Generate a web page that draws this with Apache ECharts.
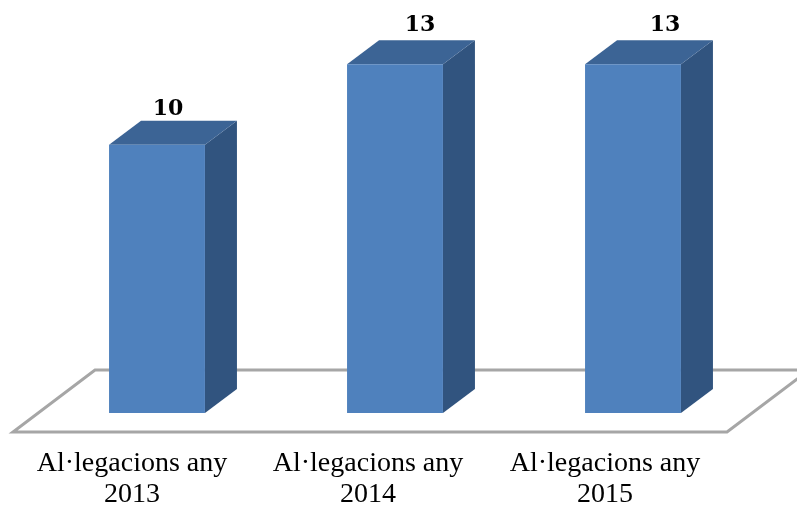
<!DOCTYPE html>
<html>
<head>
<meta charset="utf-8">
<style>
html,body{margin:0;padding:0;background:#fff;}
#chart{width:797px;height:510px;}
</style>
</head>
<body>
<div id="chart"></div>
<script src="https://cdn.jsdelivr.net/npm/echarts@6/dist/echarts.min.js"></script>
<script>
const categories = ['Al·legacions any\n2013', 'Al·legacions any\n2014', 'Al·legacions any\n2015'];
const values = [10, 13, 13];

// fake 3d look
const depthX = 32, depthY = 24;
const labelShiftX = [11, 25, 32];
const labelShiftY = [-11, -15, -15];
const axisLabelPad = [50, 54, 56];

const myChart = echarts.init(document.getElementById('chart'));

function renderFloor(params, api) {
  const g = params.coordSys;
  const base = g.y + g.height;
  const l = g.x - 25, r = g.x + g.width - 25;
  return {
    type: 'polygon',
    shape: {points: [[l, base + 19], [r, base + 19], [r + 82, base - 43], [l + 82, base - 43]]},
    style: {fill: '#fff', stroke: '#a6a6a6', lineWidth: 3}
  };
}

function renderBar(params, api) {
  const i = api.value(0);
  const top = api.coord([i, api.value(1)]);
  const bottom = api.coord([i, 0]);
  const w = api.size([1, 0])[0] * 0.403;
  const x0 = top[0] - w / 2, x1 = top[0] + w / 2;
  return {
    type: 'group',
    children: [
      {
        type: 'polygon',
        shape: {points: [[x1, top[1]], [x1 + depthX, top[1] - depthY], [x1 + depthX, bottom[1] - depthY], [x1, bottom[1]]]},
        style: {fill: '#31547f'}
      },
      {
        type: 'polygon',
        shape: {points: [[x0, top[1]], [x0 + depthX, top[1] - depthY], [x1 + depthX, top[1] - depthY], [x1, top[1]]]},
        style: {fill: '#3c6495'}
      },
      {
        type: 'rect',
        shape: {x: x0, y: top[1], width: w, height: bottom[1] - top[1]},
        style: {fill: '#4f81bd'}
      },
      {
        type: 'text',
        style: {
          x: top[0] + labelShiftX[i],
          y: top[1] - depthY + labelShiftY[i],
          text: String(api.value(1)),
          fill: '#000',
          font: 'bold 22px "DejaVu Serif"',
          align: 'center',
          verticalAlign: 'middle'
        }
      }
    ]
  };
}

myChart.setOption({
  animation: false,
  backgroundColor: '#fff',
  grid: {left: 38, width: 714, top: 10.6, height: 402.4, outerBoundsMode: 'none'},
  xAxis: {
    type: 'category',
    data: categories.map((c, i) => ({value: c, textStyle: {padding: [0, axisLabelPad[i], 0, 0]}})),
    axisLine: {show: false},
    axisTick: {show: false},
    axisLabel: {
      interval: 0,
      margin: 35,
      color: '#000',
      fontFamily: 'Liberation Serif',
      fontSize: 28,
      lineHeight: 31
    }
  },
  yAxis: {type: 'value', min: 0, max: 15, show: false},
  series: [
    {type: 'custom', renderItem: renderFloor, data: [[0, 0]], silent: true},
    {type: 'custom', renderItem: renderBar, data: values.map((v, i) => [i, v]), encode: {x: 0, y: 1}}
  ]
});
</script>
</body>
</html>
